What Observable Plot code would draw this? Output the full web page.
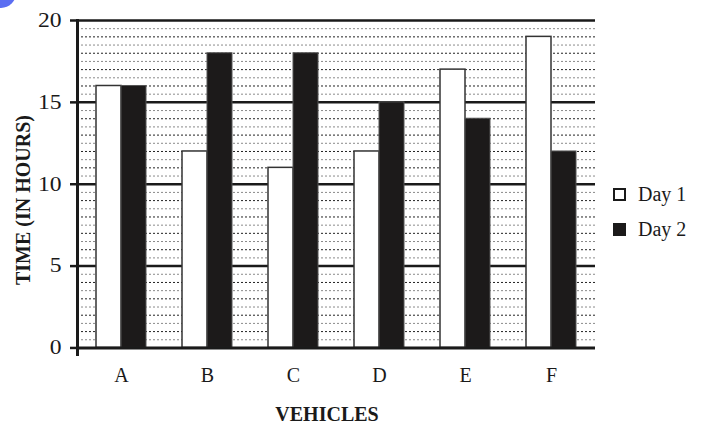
<!DOCTYPE html>
<html><head><meta charset="utf-8">
<script src="https://cdn.jsdelivr.net/npm/d3@7"></script>
<script src="https://cdn.jsdelivr.net/npm/@observablehq/plot@0.6"></script>
<style>
body{margin:0;background:#fff;}
#wrap{position:relative;width:703px;height:423px;font-family:"Liberation Serif","Times New Roman",serif;color:#1a1a1a;overflow:hidden;}
#wrap svg{position:absolute;left:0;top:0;}
#wrap svg text{font-size:20px;font-family:"Liberation Serif","Times New Roman",serif;}
.ytitle{position:absolute;left:23px;top:200px;transform:translate(-50%,-50%) rotate(-90deg);font-weight:bold;font-size:20px;white-space:nowrap;}
.xtitle{position:absolute;left:327px;top:414px;transform:translate(-50%,-50%);font-weight:bold;font-size:20px;white-space:nowrap;}
.leg{position:absolute;left:613px;font-size:20px;display:flex;align-items:center;white-space:nowrap;}
.sw{width:9px;height:9px;border:2px solid #1a1a1a;margin-right:12px;}
.blob{position:absolute;left:-14px;top:-22px;width:30px;height:30px;border-radius:50%;background:#5b6ef2;}
</style></head><body><div id="wrap"></div>
<script>
const vehicles = ["A","B","C","D","E","F"];
const day1 = [16,12,11,12,17,19];
const day2 = [16,18,18,15,14,12];
const seriesNames = ["Day 1","Day 2"];
const yTicks = [0,5,10,15,20];
const majorLines = [5,10,15,20];
const minorLines = d3.range(0.5, 20, 0.5).filter(v => v % 5 !== 0);

const d1 = vehicles.map((v,i)=>({vehicle:v, hours:day1[i]}));
const d2 = vehicles.map((v,i)=>({vehicle:v, hours:day2[i]}));

const plot = Plot.plot({
  width:703, height:423,
  marginLeft:77, marginRight:108, marginTop:20, marginBottom:69,
  style:{fontFamily:"'Liberation Serif','Times New Roman',serif", fontSize:"20px", color:"#1a1a1a", background:"transparent", overflow:"visible"},
  x:{domain:vehicles, paddingInner:0.42, paddingOuter:0.21, label:null},
  y:{domain:[-0.4,20], label:null},
  marks:[
    Plot.ruleY(minorLines.filter(v=>Number.isInteger(v)), {stroke:"#222", strokeWidth:1, strokeDasharray:"2,2"}),
    Plot.ruleY(minorLines.filter(v=>!Number.isInteger(v)), {stroke:"#8a8a8a", strokeWidth:1, strokeDasharray:"2,2"}),
    Plot.ruleY(majorLines, {stroke:"#1a1a1a", strokeWidth:2.5}),
    Plot.barY(d1, {x:"vehicle", y:"hours", fill:"white", stroke:"#333", strokeWidth:1.5, insetRight:25}),
    Plot.barY(d2, {x:"vehicle", y:"hours", fill:"#1c1a1a", stroke:"#555", strokeWidth:1, insetLeft:25}),
    Plot.ruleY([0], {stroke:"#1a1a1a", strokeWidth:3}),
    Plot.frame({anchor:"left", stroke:"#1a1a1a", strokeWidth:3}),
    Plot.axisY({ticks:yTicks, tickSize:7, tickPadding:9, strokeWidth:2.5, fontSize:20, label:null}),
    Plot.axisX({tickSize:0, tickPadding:13, fontSize:20, label:null})
  ]
});
// widen y tick labels slightly, like the horizontally stretched original
d3.select(plot).selectAll("g[aria-label='y-axis tick label'] text").each(function(){
  const t = this.getAttribute("transform") || "";
  this.setAttribute("transform", t + " scale(1.18,1)");
});
const wrap = document.getElementById("wrap");
wrap.appendChild(plot);

const blob = document.createElement("div"); blob.className="blob"; wrap.appendChild(blob);

const yt = document.createElement("div"); yt.className="ytitle"; yt.textContent="TIME (IN HOURS)"; wrap.appendChild(yt);
const xt = document.createElement("div"); xt.className="xtitle"; xt.textContent="VEHICLES"; wrap.appendChild(xt);

const legFills = ["#fff","#1c1a1a"];
const legTops = [183, 218];
seriesNames.forEach((name,i)=>{
  const d = document.createElement("div"); d.className="leg"; d.style.top = legTops[i]+"px";
  const s = document.createElement("div"); s.className="sw"; s.style.background = legFills[i];
  const t = document.createElement("span"); t.textContent = name;
  d.appendChild(s); d.appendChild(t); wrap.appendChild(d);
});
</script>
</body></html>
